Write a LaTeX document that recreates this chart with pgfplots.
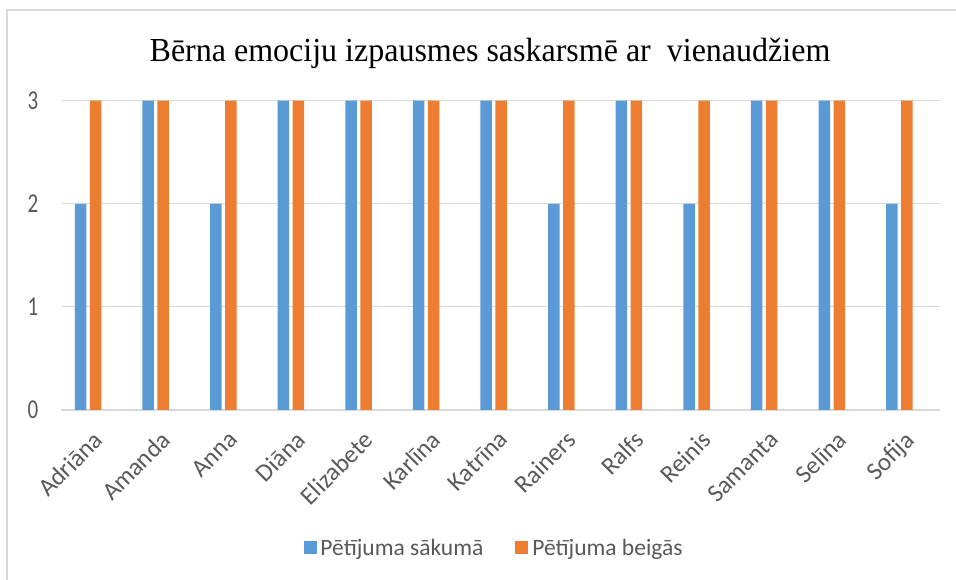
\documentclass[border=0pt]{standalone}
\usepackage{pgfplots}
\pgfplotsset{compat=1.18}
\usepackage{fontspec}
\setmainfont{Carlito}
\newfontfamily\titlefont{Liberation Serif}
\definecolor{cblue}{HTML}{5B9BD5}
\definecolor{corange}{HTML}{ED7D31}
\definecolor{cgrid}{HTML}{D9D9D9}
\definecolor{ctext}{HTML}{595959}
\begin{document}
\begin{tikzpicture}
\path[use as bounding box] (0,0) rectangle (956pt,580pt);
\draw[cgrid, line width=1.2pt] (7pt,0) -- (7pt,570pt) -- (956pt,570pt);
\node[font=\titlefont\fontsize{32}{36}\selectfont, text=black, anchor=base, yscale=1.05, inner sep=0pt] at (490pt,518pt) {Bērna emociju izpausmes saskarsmē ar\ \ vienaudžiem};
\begin{axis}[
  at={(61pt,170pt)}, anchor=south west,
  scale only axis,
  width=879pt, height=309.3pt,
  ybar=3.5pt, bar width=11.5pt,
  xmin=-0.4, xmax=12.6,
  ymin=0, ymax=3,
  ytick={0,1,2,3},
  xtick=data,
  xticklabels={Adriāna,Amanda,Anna,Diāna,Elizabete,Karlīna,Katrīna,Rainers,Ralfs,Reinis,Samanta,Selīna,Sofija},
  xticklabel style={xshift=4pt, yshift=-18pt, rotate=45, anchor=north east, font=\fontsize{25}{28}\selectfont, text=ctext, inner sep=1pt},
  yticklabel style={font=\fontsize{21}{24}\selectfont, text=ctext, yscale=1.3, anchor=center, xshift=-28pt},
  major tick length=0pt,
  axis line style={draw=none},
  axis x line*=bottom,
  ymajorgrids, grid style={cgrid, line width=1.2pt},
  extra y ticks={0}, extra y tick labels={}, extra y tick style={grid style={cgrid,line width=1.5pt}},
  /pgf/number format/assume math mode=true,
  legend style={at={(0.4926,-0.446)}, anchor=center, draw=none, legend columns=2,
    font=\fontsize{23.5}{26}\selectfont, text=ctext, /tikz/every even column/.append style={column sep=30pt},
    /tikz/every odd column/.append style={column sep=2pt}},
  legend image code/.code={\fill[#1] (0pt,-6.5pt) rectangle (13pt,6.5pt);},
]
\addplot[fill=cblue, draw=none] coordinates {(0,2) (1,3) (2,2) (3,3) (4,3) (5,3) (6,3) (7,2) (8,3) (9,2) (10,3) (11,3) (12,2)};
\addplot[fill=corange, draw=none] coordinates {(0,3) (1,3) (2,3) (3,3) (4,3) (5,3) (6,3) (7,3) (8,3) (9,3) (10,3) (11,3) (12,3)};
\legend{Pētījuma sākumā, Pētījuma beigās}
\end{axis}
\end{tikzpicture}
\end{document}
